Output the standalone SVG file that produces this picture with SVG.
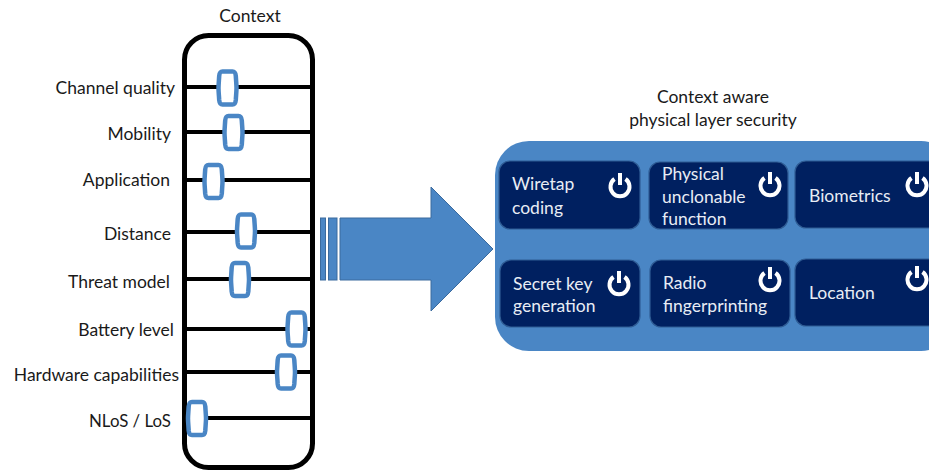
<svg xmlns="http://www.w3.org/2000/svg" width="929" height="470" viewBox="0 0 929 470">
<defs>
<g id="power"><path d="M-5.500 -6A9.500 9.500 0 1 0 5.500 -6" fill="none" stroke="#fff" stroke-width="4"/><path d="M0 -12V0" fill="none" stroke="#fff" stroke-width="4"/></g>
<path id="handle" d="M-5 -16.500H5C7.500 -16.500 8 -15 8.300 -12C8.600 -7 9 -3 9 0C9 3 8.600 7 8.300 12C8 15 7.500 16.500 5 16.500H-5C-7.500 16.500 -8 15 -8.300 12C-8.600 7 -9 3 -9 0C-9 -3 -8.600 -7 -8.300 -12C-8 -15 -7.500 -16.500 -5 -16.500Z" fill="#fff" stroke="#4a86c5" stroke-width="4.500"/>
</defs>
<style>
text{font-family:"Lato","Carlito","Open Sans",sans-serif;font-size:17.500px;fill:#1a1a1a}
.n text{fill:#e8edf5}
.end{text-anchor:end}
.mid{text-anchor:middle}
.tile{fill:#002060;stroke:#2f5c94;stroke-width:1.2}
.track{stroke:#000;stroke-width:4;fill:none}
</style>
<rect width="929" height="470" fill="#fff"/>
<text x="250" y="22" class="mid">Context</text>
<g id="context-frame"><rect x="184.500" y="35.500" width="128" height="432" rx="24" ry="24" fill="#fff" stroke="#000" stroke-width="5"/></g>
<g id="connectors">
<path class="track" d="M186 87H311M186 132H311M186 180H311M186 232H311M186 279H311M186 329H311M186 372H311M186 418H311"/>
</g>
<g id="slider-channel"><text x="175" y="94" class="end">Channel quality</text><use href="#handle" x="227.500" y="88"/></g>
<g id="slider-mobility"><text x="171" y="140" class="end">Mobility</text><use href="#handle" x="233.500" y="132.500"/></g>
<g id="slider-application"><text x="170" y="186" class="end">Application</text><use href="#handle" x="213.500" y="181.500"/></g>
<g id="slider-distance"><text x="171" y="240" class="end">Distance</text><use href="#handle" x="246" y="231"/></g>
<g id="slider-threat"><text x="170" y="288" class="end">Threat model</text><use href="#handle" x="240" y="279.500"/></g>
<g id="slider-battery"><text x="174" y="336" class="end">Battery level</text><use href="#handle" x="296.500" y="329"/></g>
<g id="slider-hardware"><text x="179" y="381" class="end">Hardware capabilities</text><use href="#handle" x="286" y="372"/></g>
<g id="slider-nlos"><text x="171" y="427" class="end" textLength="82" lengthAdjust="spacingAndGlyphs">NLoS / LoS</text><use href="#handle" x="197" y="418.500"/></g>
<g id="arrow" fill="#4a86c5" stroke="#3a6a9e" stroke-width="1">
<rect x="320.500" y="218" width="5" height="62"/><rect x="328.500" y="218" width="8.500" height="62"/>
<path d="M340 218H431V187L493 249L431 311V280H340Z"/>
</g>
<text x="713" y="103" class="mid">Context aware</text>
<text x="713" y="126" class="mid">physical layer security</text>
<g id="panel"><rect x="495" y="141" width="460" height="210" rx="34" ry="34" fill="#4a86c5"/></g>
<g id="wiretap" class="n"><rect class="tile" x="499" y="161" width="141" height="68" rx="11"/><text x="512" y="190">Wiretap</text><text x="512" y="214">coding</text><use href="#power" x="620" y="185"/></g>
<g id="puf" class="n"><rect class="tile" x="649" y="162" width="139" height="67" rx="11"/><text x="662" y="180">Physical</text><text x="662" y="203">unclonable</text><text x="662" y="225">function</text><use href="#power" x="770" y="184"/></g>
<g id="biometrics" class="n"><rect class="tile" x="795" y="161" width="150" height="67" rx="11"/><text x="809" y="202">Biometrics</text><use href="#power" x="917" y="184"/></g>
<g id="secret" class="n"><rect class="tile" x="500" y="260" width="140" height="67" rx="11"/><text x="513" y="290">Secret key</text><text x="513" y="312">generation</text><use href="#power" x="619" y="283"/></g>
<g id="radio" class="n"><rect class="tile" x="650" y="260" width="140" height="67" rx="11"/><text x="663" y="289">Radio</text><text x="663" y="312">fingerprinting</text><use href="#power" x="770" y="279"/></g>
<g id="location" class="n"><rect class="tile" x="795" y="259" width="150" height="67" rx="11"/><text x="809" y="299">Location</text><use href="#power" x="917" y="278"/></g>
</svg>
